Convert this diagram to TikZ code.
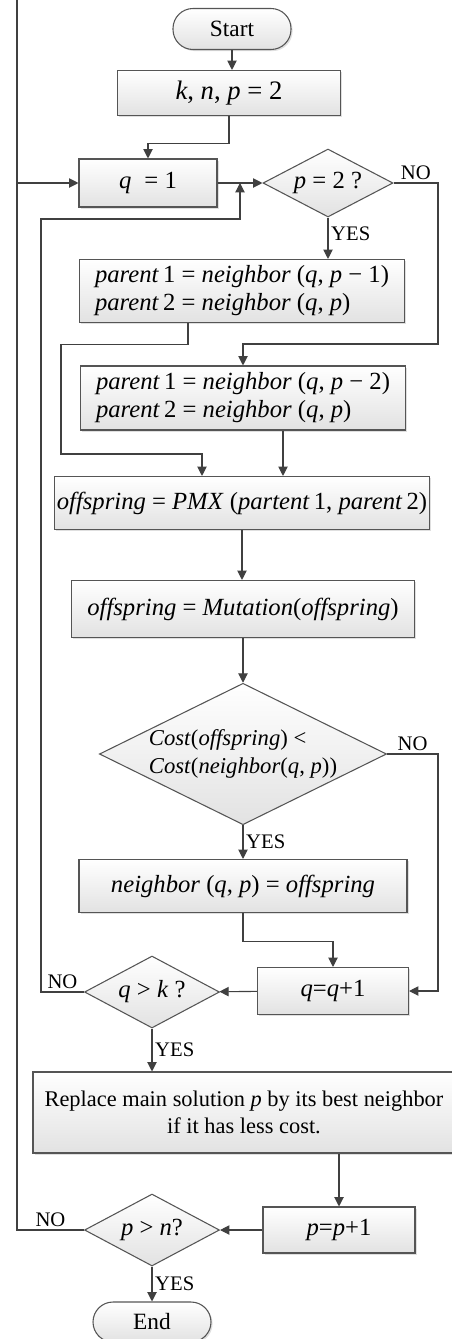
\documentclass[tikz,border=0pt]{standalone}
\usepackage{fontspec}
\setmainfont{Liberation Serif}
\usetikzlibrary{shapes.geometric,arrows.meta,calc,shadows}
\definecolor{linegray}{RGB}{64,64,64}
\definecolor{framegray}{RGB}{85,85,85}
\definecolor{shadegray}{RGB}{226,226,226}
\newcommand{\mv}[1]{\textit{#1}}

\begin{document}
\begin{tikzpicture}[
    x=0.75pt, y=-0.75pt,
    box/.style={rectangle, draw=framegray, top color=white, bottom color=shadegray, line width=0.8pt, inner sep=2pt, font=\fontsize{18.5}{21}\selectfont, drop shadow={shadow xshift=1.2pt, shadow yshift=-1.2pt, opacity=0.25}},
    term/.style={box, rounded corners=15pt, font=\fontsize{17.5}{21}\selectfont},
    dec/.style={diamond, draw=framegray, top color=white, bottom color=shadegray, line width=0.8pt, inner sep=0pt, font=\fontsize{18.5}{21}\selectfont},
    lbl/.style={font=\fontsize{15.5}{17}\selectfont, inner sep=2pt},
    arrow/.style={-{Triangle[length=7pt, width=7pt]}, line width=0.8pt, draw=linegray},
    rail/.style={line width=0.8pt, draw=linegray}
]
\useasboundingbox (0,0) rectangle (452,1339);

\node[term, minimum width=88.5pt, minimum height=30.75pt] (start) at (232,29) {Start};
\node[box, minimum width=167.25pt, minimum height=33.75pt, font=\fontsize{20}{23}\selectfont] (init) at (229,93) {\mv{k}, \mv{n}, \mv{p} = 2};
\node[box, minimum width=103.5pt, minimum height=36pt] (qone) at (148,183) {\mv{q} \;= 1};
\node[dec, minimum width=97.5pt, minimum height=51pt, aspect=1.9] (ptwo) at (328,183) {\mv{p} = 2 ?};

\node[box, minimum width=243.75pt, minimum height=47.25pt, align=left] (par1) at (242,291) {\mv{parent}\,1 = \mv{neighbor} (\mv{q}, \mv{p} − 1)\\\mv{parent}\,2 = \mv{neighbor} (\mv{q}, \mv{p})};
\node[box, minimum width=243.75pt, minimum height=48pt, align=left] (par2) at (243,398) {\mv{parent}\,1 = \mv{neighbor} (\mv{q}, \mv{p} − 2)\\\mv{parent}\,2 = \mv{neighbor} (\mv{q}, \mv{p})};

\node[box, minimum width=276.75pt, minimum height=39.75pt] (pmx) at (242,503) {\mv{offspring} = \mv{PMX} (\mv{partent}\,1, \mv{parent}\,2)};
\node[box, minimum width=257.25pt, minimum height=42.75pt] (mut) at (243,609) {\mv{offspring} = \mv{Mutation}(\mv{offspring})};
\node[dec, minimum width=210pt, minimum height=103.5pt, aspect=2.03, align=left, font=\fontsize{17}{21}\selectfont] (cost) at (243,754) {\mv{Cost}(\mv{offspring}) <\\\mv{Cost}(\mv{neighbor}(\mv{q}, \mv{p}))};
\node[box, minimum width=246pt, minimum height=39.75pt] (upd) at (243,886) {\mv{neighbor} (\mv{q}, \mv{p}) = \mv{offspring}};

\node[box, minimum width=113.25pt, minimum height=35.25pt] (qinc) at (333,991) {\mv{q}=\mv{q}+1};
\node[dec, minimum width=101.25pt, minimum height=54pt, aspect=1.875] (qk) at (152,992) {\mv{q} > \mv{k} ?};

\node[box, minimum width=316.5pt, minimum height=60.75pt, align=center, font=\fontsize{16.8}{20}\selectfont] (repl) at (244,1112.5) {Replace main solution \mv{p} by its best neighbor\\if it has less cost.};

\node[box, minimum width=114pt, minimum height=34.5pt] (pinc) at (339,1230) {\mv{p}=\mv{p}+1};
\node[dec, minimum width=101.25pt, minimum height=54pt, aspect=1.875] (pn) at (152,1230) {\mv{p} > \mv{n}?};
\node[term, minimum width=88.5pt, minimum height=30pt] (stop) at (152,1322) {End};

\coordinate (lrail) at (17,0);
\coordinate (mrail) at (41,0);
\coordinate (rrail) at (438,0);
\coordinate (join) at ($(qone.east)!0.5!(ptwo.west)$);
\path (par1.south) ++(-54,0) coordinate (p1out);
\path (par2.south) ++(40,0) coordinate (p2out);
\path (pmx.north) ++(-40,0) coordinate (pmxin);

\draw[arrow] (start) -- (start |- init.north);
\draw[arrow] (init.south) -- ++(0,27) -| (qone);
\draw[arrow] (qone) -- (ptwo);
\draw[arrow] (ptwo) -- node[lbl, right, pos=0.4] {YES} (ptwo.south |- par1.north);
\draw[arrow] (ptwo.east) -- node[lbl, above] {NO} (ptwo.east -| rrail) -- ++(0,161) -| (par2.north);
\draw[arrow] (p1out) -- ++(0,21) -| (61,454) -| (pmxin);
\draw[arrow] (p2out) -- (p2out |- pmx.north);
\draw[arrow] (pmx.south) -- (pmx.south |- mut.north);
\draw[arrow] (mut) -- (mut |- cost.north);
\draw[arrow] (cost) -- node[lbl, right] {YES} (cost |- upd.north);
\draw[arrow] (cost.east) -- node[lbl, above] {NO} (cost.east -| rrail) |- (qinc.east);
\draw[arrow] (upd.south) -- ++(0,28) -| (qinc.north);
\draw[arrow] (qinc) -- (qk);
\draw[arrow] (qk.west) -- node[lbl, above] {NO} (qk.west -| mrail) -- ($(mrail)+(0,219)$) -| (join);
\draw[arrow] (qk) -- node[lbl, right] {YES} (qk |- repl.north);
\draw[arrow] (pinc |- repl.south) -- (pinc);
\draw[arrow] (pinc) -- (pn);
\draw[rail] (pn.west) -- node[lbl, above] {NO} (pn.west -| lrail) -- (lrail);
\draw[arrow] (lrail |- qone.west) -- (qone.west);
\draw[arrow] (pn) -- node[lbl, right] {YES} (pn |- stop.north);
\end{tikzpicture}
\end{document}
